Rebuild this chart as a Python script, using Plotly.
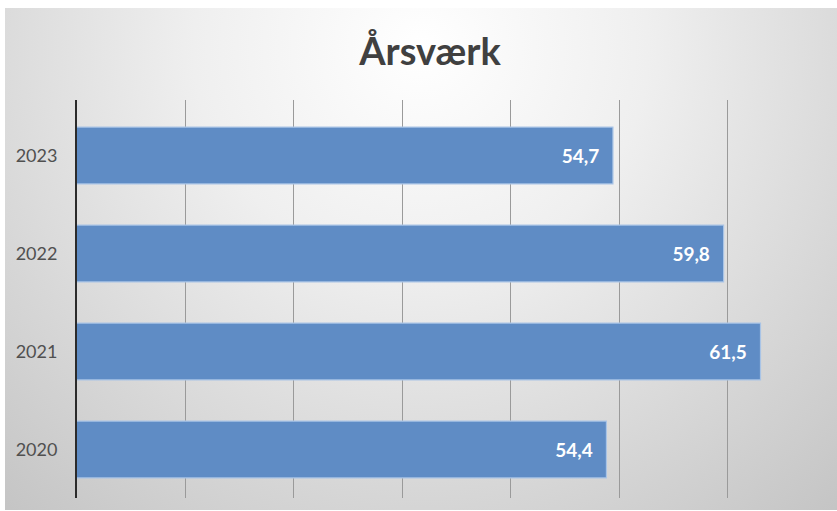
import base64
import plotly.graph_objects as go

# Årsværk per år
years = ["2020", "2021", "2022", "2023"]
aarsvaerk = [54.4, 61.5, 59.8, 54.7]
labels = [f"{v:.1f}".replace(".", ",") for v in aarsvaerk]

W, H = 837, 511
ML, MR, MT, MB = 77, 1, 100, 13
plot_w = W - ML - MR
plot_h = H - MT - MB

# chart-area background: soft radial gradient, white at the top centre
svg = (
    '<svg xmlns="http://www.w3.org/2000/svg" width="832" height="502" '
    'viewBox="0 0 832 502" preserveAspectRatio="none">'
    '<defs><radialGradient id="g" cx="0.5" cy="0.08" r="0.78" '
    'gradientTransform="translate(0.5 0.08) scale(1 1.6) translate(-0.5 -0.08)">'
    '<stop offset="0" stop-color="#ffffff"/>'
    '<stop offset="0.35" stop-color="#efefef"/>'
    '<stop offset="1" stop-color="#c3c3c3"/>'
    '</radialGradient></defs>'
    '<rect width="832" height="502" fill="url(#g)"/></svg>'
)
bg_src = "data:image/svg+xml;base64," + base64.b64encode(svg.encode()).decode()

def px_to_paper_x(px):
    return (px - ML) / plot_w

def px_to_paper_y(py):
    return (H - MB - py) / plot_h

bar_color = "#5f8cc5"

fig = go.Figure(
    go.Bar(
        x=aarsvaerk,
        y=years,
        orientation="h",
        marker=dict(color=bar_color, line=dict(color="#a9c4e6", width=1.2)),
        text=[f"<b>{lab}</b>\u2002\u200a" for lab in labels],
        textposition="inside",
        insidetextanchor="end",
        textangle=0,
        insidetextfont=dict(family="Lato", size=19, color="#ffffff"),
        hoverinfo="skip",
    )
)

fig.add_layout_image(
    source=bg_src, xref="paper", yref="paper",
    x=px_to_paper_x(5), y=px_to_paper_y(8),
    sizex=px_to_paper_x(837) - px_to_paper_x(5),
    sizey=px_to_paper_y(8) - px_to_paper_y(510),
    xanchor="left", yanchor="top", sizing="stretch", layer="below",
)

fig.update_layout(
    width=W, height=H,
    margin=dict(l=ML, r=MR, t=MT, b=MB, pad=0),
    paper_bgcolor="#ffffff",
    plot_bgcolor="rgba(0,0,0,0)",
    bargap=0.42,
    showlegend=False,
    title=dict(
        text="<b>Årsværk</b>",
        x=430 / W, xanchor="center", xref="container",
        y=1 - 52 / H, yanchor="middle", yref="container",
        font=dict(family="Lato", size=38, color="#404040"),
    ),
    xaxis=dict(
        range=[30, 64.98], dtick=5, tick0=30,
        showticklabels=False, showgrid=True,
        gridcolor="#9a9a9a", gridwidth=1,
        zeroline=False, showline=False,
    ),
    yaxis=dict(
        type="category",
        range=[-0.495, 3.566],
        showgrid=False, zeroline=False,
        showline=True, linecolor="#2b2b2b", linewidth=2,
        ticks="outside", ticklen=14, tickcolor="rgba(0,0,0,0)",
        tickfont=dict(family="Lato", size=18, color="#505050"),
    ),
)

fig.write_html("out.html")
